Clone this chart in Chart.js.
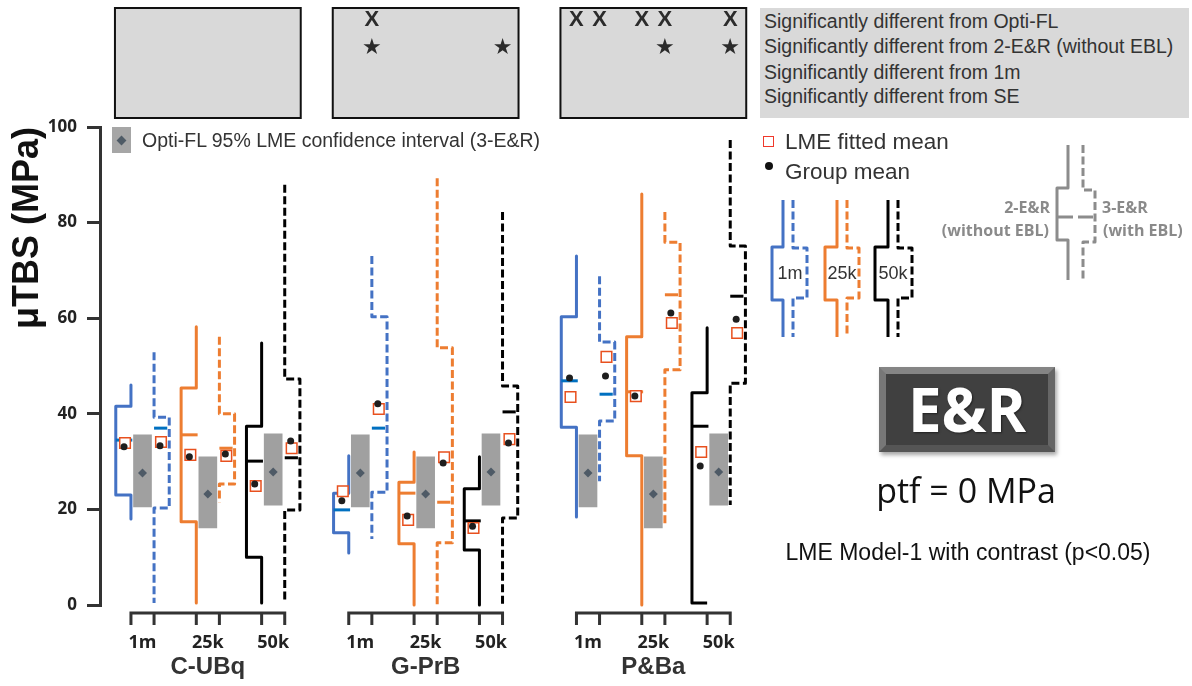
<!DOCTYPE html>
<html lang="en">
<head>
<meta charset="utf-8">
<title>μTBS E&amp;R</title>
<script src="https://cdn.jsdelivr.net/npm/chart.js@4.4.1/dist/chart.umd.min.js"></script>
<style>
  html, body { margin:0; padding:0; background:#fff; }
  #wrap { position:relative; width:1192px; height:686px; overflow:hidden; font-family:Arial, "Liberation Sans", sans-serif; color:#333; }
  #chart { position:absolute; left:0; top:0; }
  .t { position:absolute; white-space:nowrap; line-height:1; transform:translateY(-50%); }
  .c { transform:translate(-50%,-50%); }
  .r { transform:translate(-100%,-50%); }
  .sig { font-size:19.5px; color:#333; left:764px; }
  .leg { font-size:22.5px; color:#333; left:785px; }
  .mini { font-size:18px; color:#333; }
  .grey { font-family:"Open Sans", sans-serif; font-weight:700; font-size:16px; color:#8a8a8a; }
</style>
</head>
<body>
<div id="wrap">
  <canvas id="chart" width="1192" height="686"></canvas>

  <div style="position:absolute;left:760px;top:8px;width:429px;height:110px;background:#d9d9d9"></div>
  <div class="t sig" style="top:22px">Significantly different from Opti-FL</div>
  <div class="t sig" style="top:47px">Significantly different from 2-E&amp;R (without EBL)</div>
  <div class="t sig" style="top:73px">Significantly different from 1m</div>
  <div class="t sig" style="top:97px">Significantly different from SE</div>

  <div style="position:absolute;left:112px;top:127px;width:19px;height:26px;background:#a6a6a6"></div>
  <div style="position:absolute;left:118px;top:136.5px;width:7px;height:7px;background:#4f5b66;transform:rotate(45deg)"></div>
  <div class="t sig" style="left:142px;top:141px">Opti-FL 95% LME confidence interval (3-E&amp;R)</div>

  <div style="position:absolute;left:763px;top:136px;width:11px;height:11px;box-sizing:border-box;border:1.5px solid #f0392b"></div>
  <div class="t leg" style="top:142px">LME fitted mean</div>
  <div style="position:absolute;left:765px;top:162px;width:8px;height:8px;border-radius:50%;background:#111"></div>
  <div class="t leg" style="top:172px">Group mean</div>

  <div class="t mini c" style="left:790px;top:273px">1m</div>
  <div class="t mini c" style="left:842px;top:273px">25k</div>
  <div class="t mini c" style="left:893px;top:273px">50k</div>

  <div class="t grey r" style="left:1050px;top:207px">2-E&amp;R</div>
  <div class="t grey r" style="left:1049px;top:230px">(without EBL)</div>
  <div class="t grey" style="left:1102px;top:207px">3-E&amp;R</div>
  <div class="t grey" style="left:1103px;top:230px">(with EBL)</div>

  <div style="position:absolute;left:879px;top:367px;width:176px;height:85px;box-sizing:border-box;border:7px solid;border-color:#858585 #666 #555 #777;background:#404040;box-shadow:2px 3px 4px rgba(0,0,0,.35);color:#fff;font-family:'Open Sans',sans-serif;font-weight:700;font-size:60px;line-height:71px;text-align:center;text-shadow:1px 1px 2px rgba(0,0,0,.5)">E&amp;R</div>
  <div class="t c" style="left:966px;top:490px;font-family:'Open Sans',sans-serif;font-size:34px;color:#111">ptf = 0 MPa</div>
  <div class="t c" style="left:968px;top:552px;font-size:23px;color:#111">LME Model-1 with contrast (p&lt;0.05)</div>
</div>

<script>
const groups = ['C-UBq', 'G-PrB', 'P&Ba'];
const conditions = ['1m', '25k', '50k'];
const yTicks = [0, 20, 40, 60, 80, 100];

// [max, q3, median, q1, min] in MPa, order: group x condition
const er2Stats = [
  [46.0, 41.6, 34.5, 23.0, 18.0], [58.2, 45.4, 35.6, 17.4, 0.4], [54.8, 37.4, 30.1, 10.0, 0.4],
  [31.2, 23.4, 19.9, 15.1, 10.9], [32.0, 25.7, 23.4, 12.8, 0],   [31.0, 24.3, 17.6, 11.5, 0],
  [73.0, 60.3, 46.9, 37.2, 18.4], [86.0, 56.1, 44.6, 31.2, 0],   [58.0, 44.4, 37.4, 0.4, 0.4]
];
const er3Stats = [
  [52.9, 39.3, 37.0, 20.3, 0.4],  [56.1, 40.0, 32.8, 25.3, 21.5], [87.9, 47.3, 30.8, 19.9, 0.4],
  [73.0, 60.3, 37.0, 23.6, 13.8], [89.3, 53.8, 21.5, 13.0, 0],    [82.2, 45.8, 40.4, 18.2, 0],
  [68.8, 55.0, 44.1, 38.5, 25.9], [82.2, 75.9, 64.9, 49.2, 16.7], [97.3, 75.1, 64.6, 46.4, 20.9]
];
const er2GroupMean = [33.1, 31.0, 25.3, 21.8, 18.6, 16.5, 47.5, 43.7, 29.1];
const er2LmeMean   = [33.9, 31.4, 24.9, 23.8, 17.8, 16.1, 43.5, 43.7, 32.0];
const er3GroupMean = [33.3, 31.6, 34.3, 42.1, 29.7, 33.9, 47.9, 61.1, 59.8];
const er3LmeMean   = [34.1, 31.2, 32.8, 41.0, 30.9, 34.7, 51.9, 59.0, 56.9];
// Opti-FL CI per condition (same in every group)
const optiLow  = [20.5, 16.1, 20.9];
const optiHigh = [35.6, 31.0, 35.8];
const optiMean = [27.6, 23.2, 27.8];
// significance marks: [group, condition, series] (series 0 = 2-E&R, 1 = 3-E&R)
const sigVsOptiFL = [[1,0,1], [2,0,0], [2,0,1], [2,1,0], [2,1,1], [2,2,1]];
const sigVs2ER    = [[1,0,1], [1,2,1], [2,1,1], [2,2,1]];

// layout, in x-axis units (1 unit ~ 66px)
const groupBase = [0, 3.30, 6.75];
const condStep = 0.99;
const halfGap = 0.175;
const boxW = 0.23;
const X_MIN = -0.644, X_MAX = 9.356;
const lineColors = ['#4472c4', '#ed7d31', '#000000'];
const medianColors = ['#0070c0', '#ed7d31', '#000000'];
const dash = [8, 3.5];

const slot = i => groupBase[Math.floor(i/3)] + (i%3)*condStep;
const whisker = (i, s) => slot(i) + (s ? halfGap : -halfGap);
const slots = conditions.concat(conditions, conditions).map((c, i) => slot(i));

const datasets = [];
const dots = [], squares = [];
er2GroupMean.forEach((v, i) => dots.push({x: whisker(i,0) - 0.105, y: v}));
er3GroupMean.forEach((v, i) => dots.push({x: whisker(i,1) + 0.09, y: v}));
er2LmeMean.forEach((v, i) => squares.push({x: whisker(i,0) - 0.09, y: v}));
er3LmeMean.forEach((v, i) => squares.push({x: whisker(i,1) + 0.105, y: v}));

datasets.push({label:'Group mean', data:dots, pointStyle:'circle', pointRadius:3.5, backgroundColor:'#1e1e1e', borderWidth:0, order:0, clip:false});
datasets.push({label:'LME fitted mean', data:squares, pointStyle:'rect', pointRadius:7.5, backgroundColor:'#ffffff', borderColor:'#e8501e', borderWidth:1.5, order:1, clip:false});
datasets.push({label:'Opti-FL mean', data:slots.map((x, i) => ({x, y: optiMean[i%3]})), pointStyle:'rectRot', pointRadius:4.5, backgroundColor:'#4e5a66', borderWidth:0, order:2, clip:false});
datasets.push({type:'bar', label:'Opti-FL 95% CI', data:slots.map((x, i) => ({x, y: [optiLow[i%3], optiHigh[i%3]]})), backgroundColor:'#a0a0a0', barThickness:18, grouped:false, order:3});

[er2Stats, er3Stats].forEach((stats, s) => {
  stats.forEach((st, i) => {
    const [mx, q3, md, q1, mn] = st;
    const xw = whisker(i, s), xb = xw + (s ? boxW : -boxW);
    datasets.push({
      label: (s ? '3-E&R ' : '2-E&R ') + groups[Math.floor(i/3)] + ' ' + conditions[i%3],
      data: [{x:xw,y:mx}, {x:xw,y:q3}, {x:xb,y:q3}, {x:xb,y:q1}, {x:xw,y:q1}, {x:xw,y:mn}],
      showLine:true, borderColor:lineColors[i%3], borderWidth:3, borderDash: s ? dash : [],
      borderJoinStyle:'round', pointRadius:0, order:5, clip:false
    });
    datasets.push({
      label:'median',
      data: [{x: s ? xw : xb, y: md}, {x: s ? xb - 0.03 : xw + 0.02, y: md}],
      showLine:true, borderColor:medianColors[i%3], borderWidth:3, pointRadius:0, order:4, clip:false
    });
  });
});

function stepIcon(ctx, xw, xb, top, q3, q1, bottom, color, dashed){
  ctx.beginPath();
  ctx.setLineDash(dashed ? dash : []);
  ctx.strokeStyle = color; ctx.lineWidth = 3; ctx.lineJoin = 'round';
  ctx.moveTo(xw, top); ctx.lineTo(xw, q3); ctx.lineTo(xb, q3); ctx.lineTo(xb, q1); ctx.lineTo(xw, q1); ctx.lineTo(xw, bottom);
  ctx.stroke();
}

const decor = {
  id: 'decor',
  afterDraw(chart){
    const {ctx} = chart;
    const px = v => chart.scales.x.getPixelForValue(v);
    ctx.save();
    // significance panels above each group
    groups.forEach((g, gi) => {
      const l = px(groupBase[gi] - halfGap) - 16, r = px(groupBase[gi] + 2*condStep + halfGap) + 16;
      ctx.fillStyle = '#d9d9d9'; ctx.fillRect(l, 8, r - l, 110);
      ctx.strokeStyle = '#111'; ctx.lineWidth = 2; ctx.strokeRect(l, 8, r - l, 110);
    });
    ctx.fillStyle = '#2b2b2b'; ctx.textAlign = 'center'; ctx.textBaseline = 'middle';
    ctx.font = 'bold 22px Arial, "Liberation Sans", sans-serif';
    sigVsOptiFL.forEach(([g, c, s]) => ctx.fillText('X', px(whisker(g*3 + c, s)), 20));
    ctx.font = '22px "DejaVu Sans", sans-serif';
    sigVs2ER.forEach(([g, c, s]) => ctx.fillText('★', px(whisker(g*3 + c, s)), 48));

    // segmented x axis, one per group
    const yb = chart.chartArea.bottom + 8;
    ctx.strokeStyle = '#333'; ctx.lineWidth = 3; ctx.setLineDash([]);
    groups.forEach((g, gi) => {
      const xs = [0,1,2].flatMap(c => [whisker(gi*3 + c, 0), whisker(gi*3 + c, 1)]).map(px);
      ctx.beginPath();
      ctx.moveTo(xs[0] - 1.5, yb); ctx.lineTo(xs[5] + 1.5, yb);
      xs.forEach(x => { ctx.moveTo(x, yb); ctx.lineTo(x, yb + 12); });
      ctx.stroke();
    });

    // line style legend
    const icons = [[783, 793, 772, 807], [837, 847, 825, 859], [888, 898, 875, 912]];
    icons.forEach(([xs, xd, bl, br], k) => {
      stepIcon(ctx, xs, bl, 200, 247, 300, 337, lineColors[k], false);
      stepIcon(ctx, xd, br, 200, 248, 298, 337, lineColors[k], true);
    });
    stepIcon(ctx, 1068, 1057, 145, 188, 240, 280, '#8c8c8c', false);
    stepIcon(ctx, 1083, 1095, 145, 190, 242, 280, '#8c8c8c', true);
    ctx.setLineDash([]); ctx.beginPath();
    ctx.moveTo(1057, 217); ctx.lineTo(1073, 217);
    ctx.moveTo(1078, 217); ctx.lineTo(1093, 217);
    ctx.stroke();
    ctx.restore();
  }
};

Chart.defaults.font.family = 'Arial, "Liberation Sans", sans-serif';

new Chart(document.getElementById('chart'), {
  type: 'scatter',
  data: { datasets },
  options: {
    responsive: false,
    animation: false,
    events: [],
    layout: { padding: { top: 127, right: 432, bottom: 0, left: 0 } },
    plugins: { legend: { display: false }, tooltip: { enabled: false } },
    scales: {
      x: {
        type: 'linear', position: 'bottom', min: X_MIN, max: X_MAX, bounds: 'data', offset: false,
        grid: { display: false, drawTicks: false }, border: { display: false },
        afterBuildTicks: sc => { sc.ticks = slots.map(v => ({value: v})); },
        afterFit: sc => { sc.height = 50; },
        ticks: {
          autoSkip: false, maxRotation: 0, padding: 27, color: '#222',
          font: { family: '"Open Sans", sans-serif', weight: 'bold', size: 18, lineHeight: 1.2 },
          callback: (v, i) => conditions[i % 3]
        }
      },
      xg: {
        type: 'linear', axis: 'x', position: 'bottom', min: X_MIN, max: X_MAX, bounds: 'data', offset: false,
        grid: { display: false, drawTicks: false }, border: { display: false },
        afterBuildTicks: sc => { sc.ticks = groupBase.map(v => ({value: v + condStep})); },
        afterFit: sc => { sc.height = 31; },
        ticks: {
          autoSkip: false, maxRotation: 0, padding: 0, color: '#333',
          font: { weight: 'bold', size: 24, lineHeight: 1 },
          callback: (v, i) => groups[i]
        }
      },
      y: {
        min: 0, max: 100,
        afterBuildTicks: sc => { sc.ticks = yTicks.map(v => ({value: v})); },
        afterFit: sc => { sc.width = 100; },
        grid: { drawOnChartArea: false, drawTicks: true, tickLength: 13, color: '#333', lineWidth: 3 },
        border: { display: true, color: '#333', width: 3 },
        ticks: { padding: 10, color: '#222', font: { family: '"Open Sans", sans-serif', weight: 'bold', size: 17 } },
        title: {
          display: true, text: 'μTBS (MPa)', align: 'end', color: '#111',
          font: { weight: 'bold', size: 36 }, padding: { top: 6, bottom: 0 }
        }
      }
    }
  },
  plugins: [decor]
});
</script>
</body>
</html>
